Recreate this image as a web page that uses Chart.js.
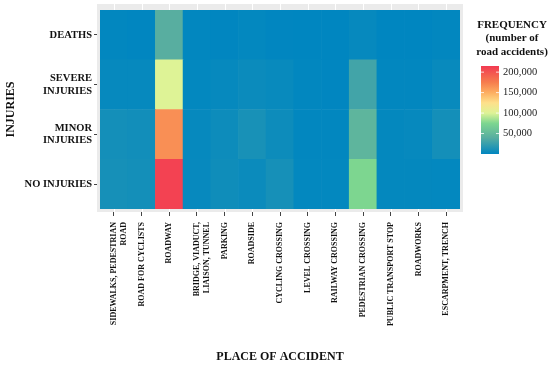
<!DOCTYPE html>
<html>
<head>
<meta charset="utf-8">
<script src="https://cdn.jsdelivr.net/npm/chart.js@4.4.0/dist/chart.umd.min.js"></script>
<style>
  body { margin: 0; background: #fff; }
  #wrap { width: 550px; height: 370px; }
</style>
</head>
<body>
<div id="wrap"><canvas id="chart"></canvas></div>
<script>
// data
var places = [['SIDEWALKS, PEDESTRIAN', 'ROAD'], 'ROAD FOR CYCLISTS', 'ROADWAY', ['BRIDGE, VIADUCT,', 'LIAISON, TUNNEL'],
   'PARKING', 'ROADSIDE', 'CYCLING CROSSING', 'LEVEL CROSSING', 'RAILWAY CROSSING', 'PEDESTRIAN CROSSING',
   'PUBLIC TRANSPORT STOP', 'ROADWORKS', 'ESCARPMENT, TRENCH'];
var injuries = ['NO INJURIES', ['MINOR', 'INJURIES'], ['SEVERE', 'INJURIES'], 'DEATHS'];

var noInjuries = [10000, 9000, 210000, 3000, 7000, 5000, 10000, 1500, 1500, 75000, 2000, 2000, 1500];
var minor      = [9000, 8000, 166000, 2500, 6000, 11000, 6000, 1000, 800, 46000, 2000, 2500, 9000];
var severe     = [2500, 2500, 100000, 1500, 2500, 5000, 3500, 800, 400, 30000, 800, 800, 3500];
var deaths     = [800, 400, 40000, 800, 400, 1500, 400, 200, 200, 2500, 200, 200, 800];

var legendTicks = [50000, 100000, 150000, 200000];
var scaleMax = 215000;

var FONT = "'Liberation Serif', 'Times New Roman', serif";

var colorStops = [
   [0, [0, 134, 192]],
   [40000, [88, 174, 160]],
   [75000, [125, 214, 144]],
   [100000, [222, 243, 150]],
   [125000, [254, 224, 139]],
   [150000, [253, 174, 97]],
   [175000, [246, 125, 78]],
   [215000, [242, 58, 82]]
];

function colorFor(v) {
   for (var i = 1; i < colorStops.length; i++) {
      var a = colorStops[i - 1], b = colorStops[i];
      if (v <= b[0] || i === colorStops.length - 1) {
         var t = Math.max(0, Math.min(1, (v - a[0]) / (b[0] - a[0])));
         var c = a[1].map(function(x, k) { return Math.round(x + (b[1][k] - x) * t); });
         return 'rgb(' + c.join(',') + ')';
      }
   }
}

var rows = [noInjuries, minor, severe, deaths];
var datasets = rows.map(function(vals, i) {
   return {
      label: Array.isArray(injuries[i]) ? injuries[i].join(' ') : injuries[i],
      data: vals.map(function() { return 1; }),
      backgroundColor: vals.map(colorFor),
      borderWidth: 0,
      barPercentage: 1,
      categoryPercentage: 1
   };
});

var panelPlugin = {
   id: 'panel',
   beforeDatasetsDraw: function(chart) {
      var a = chart.chartArea, ctx = chart.ctx;
      ctx.save();
      ctx.fillStyle = '#ebebeb';
      ctx.fillRect(a.left - 3, a.top - 6, a.right - a.left + 6, a.bottom - a.top + 9);
      ctx.strokeStyle = '#ffffff';
      ctx.lineWidth = 1;
      var xs = chart.scales.x;
      for (var i = 0; i < places.length; i++) {
         var px = Math.round(xs.getPixelForValue(i)) + 0.5;
         ctx.beginPath();
         ctx.moveTo(px, a.top - 6); ctx.lineTo(px, a.bottom + 3);
         ctx.stroke();
      }
      ctx.restore();
   },
   afterDraw: function(chart) {
      var ctx = chart.ctx;
      ctx.save();
      ctx.fillStyle = '#111';
      ctx.font = 'bold 11px ' + FONT;
      ctx.textAlign = 'center';
      ctx.textBaseline = 'middle';
      ctx.fillText('FREQUENCY', 512, 25);
      ctx.fillText('(number of', 512, 38);
      ctx.fillText('road accidents)', 512, 52);

      var top = 66, bottom = 154, left = 481, w = 18;
      var g = ctx.createLinearGradient(0, bottom, 0, top);
      colorStops.forEach(function(s) {
         g.addColorStop(s[0] / scaleMax, 'rgb(' + s[1].join(',') + ')');
      });
      ctx.fillStyle = g;
      ctx.fillRect(left, top, w, bottom - top);

      ctx.font = '10.5px ' + FONT;
      ctx.textAlign = 'left';
      ctx.strokeStyle = 'rgba(255,255,255,0.8)';
      legendTicks.forEach(function(v) {
         var y = bottom - (v / scaleMax) * (bottom - top);
         ctx.beginPath();
         ctx.moveTo(left, y); ctx.lineTo(left + 3, y);
         ctx.moveTo(left + w - 3, y); ctx.lineTo(left + w, y);
         ctx.stroke();
         ctx.fillStyle = '#222';
         ctx.fillText(v.toLocaleString('en-US'), 503, y);
      });
      ctx.restore();
   }
};

new Chart(document.getElementById('chart'), {
   type: 'bar',
   data: { labels: places, datasets: datasets },
   plugins: [panelPlugin],
   options: {
      responsive: true,
      maintainAspectRatio: false,
      animation: false,
      layout: { padding: { top: 10, right: 90, left: 0, bottom: 0 } },
      plugins: { legend: { display: false }, tooltip: { enabled: false } },
      scales: {
         x: {
            stacked: true,
            offset: true,
            afterFit: function(s) { s.height = 161; },
            grid: { display: true, offset: false, drawOnChartArea: false, tickLength: 7, color: '#444' },
            border: { display: false },
            ticks: {
               autoSkip: false, maxRotation: 90, minRotation: 90, padding: 6,
               color: '#111', font: { family: FONT, size: 8, weight: 'bold' }
            },
            title: {
               display: true, text: 'PLACE OF ACCIDENT', color: '#111',
               font: { family: FONT, size: 12, weight: 'bold' }, padding: { top: 0, bottom: 6 }
            }
         },
         y: {
            stacked: true,
            min: 0,
            max: 4,
            afterFit: function(s) { s.width = 100; },
            afterBuildTicks: function(s) {
               s.ticks = [0.5, 1.5, 2.5, 3.5].map(function(v) { return { value: v }; });
            },
            grid: { display: true, drawOnChartArea: false, tickLength: 6, color: '#444' },
            border: { display: false },
            ticks: {
               padding: 2, color: '#111',
               font: { family: FONT, size: 10.5, weight: 'bold' },
               callback: function(v, i) { return injuries[i]; }
            },
            title: {
               display: true, text: 'INJURIES', color: '#111',
               font: { family: FONT, size: 12, weight: 'bold' }, padding: { top: 4, bottom: 0 }
            }
         }
      }
   }
});
</script>
</body>
</html>
